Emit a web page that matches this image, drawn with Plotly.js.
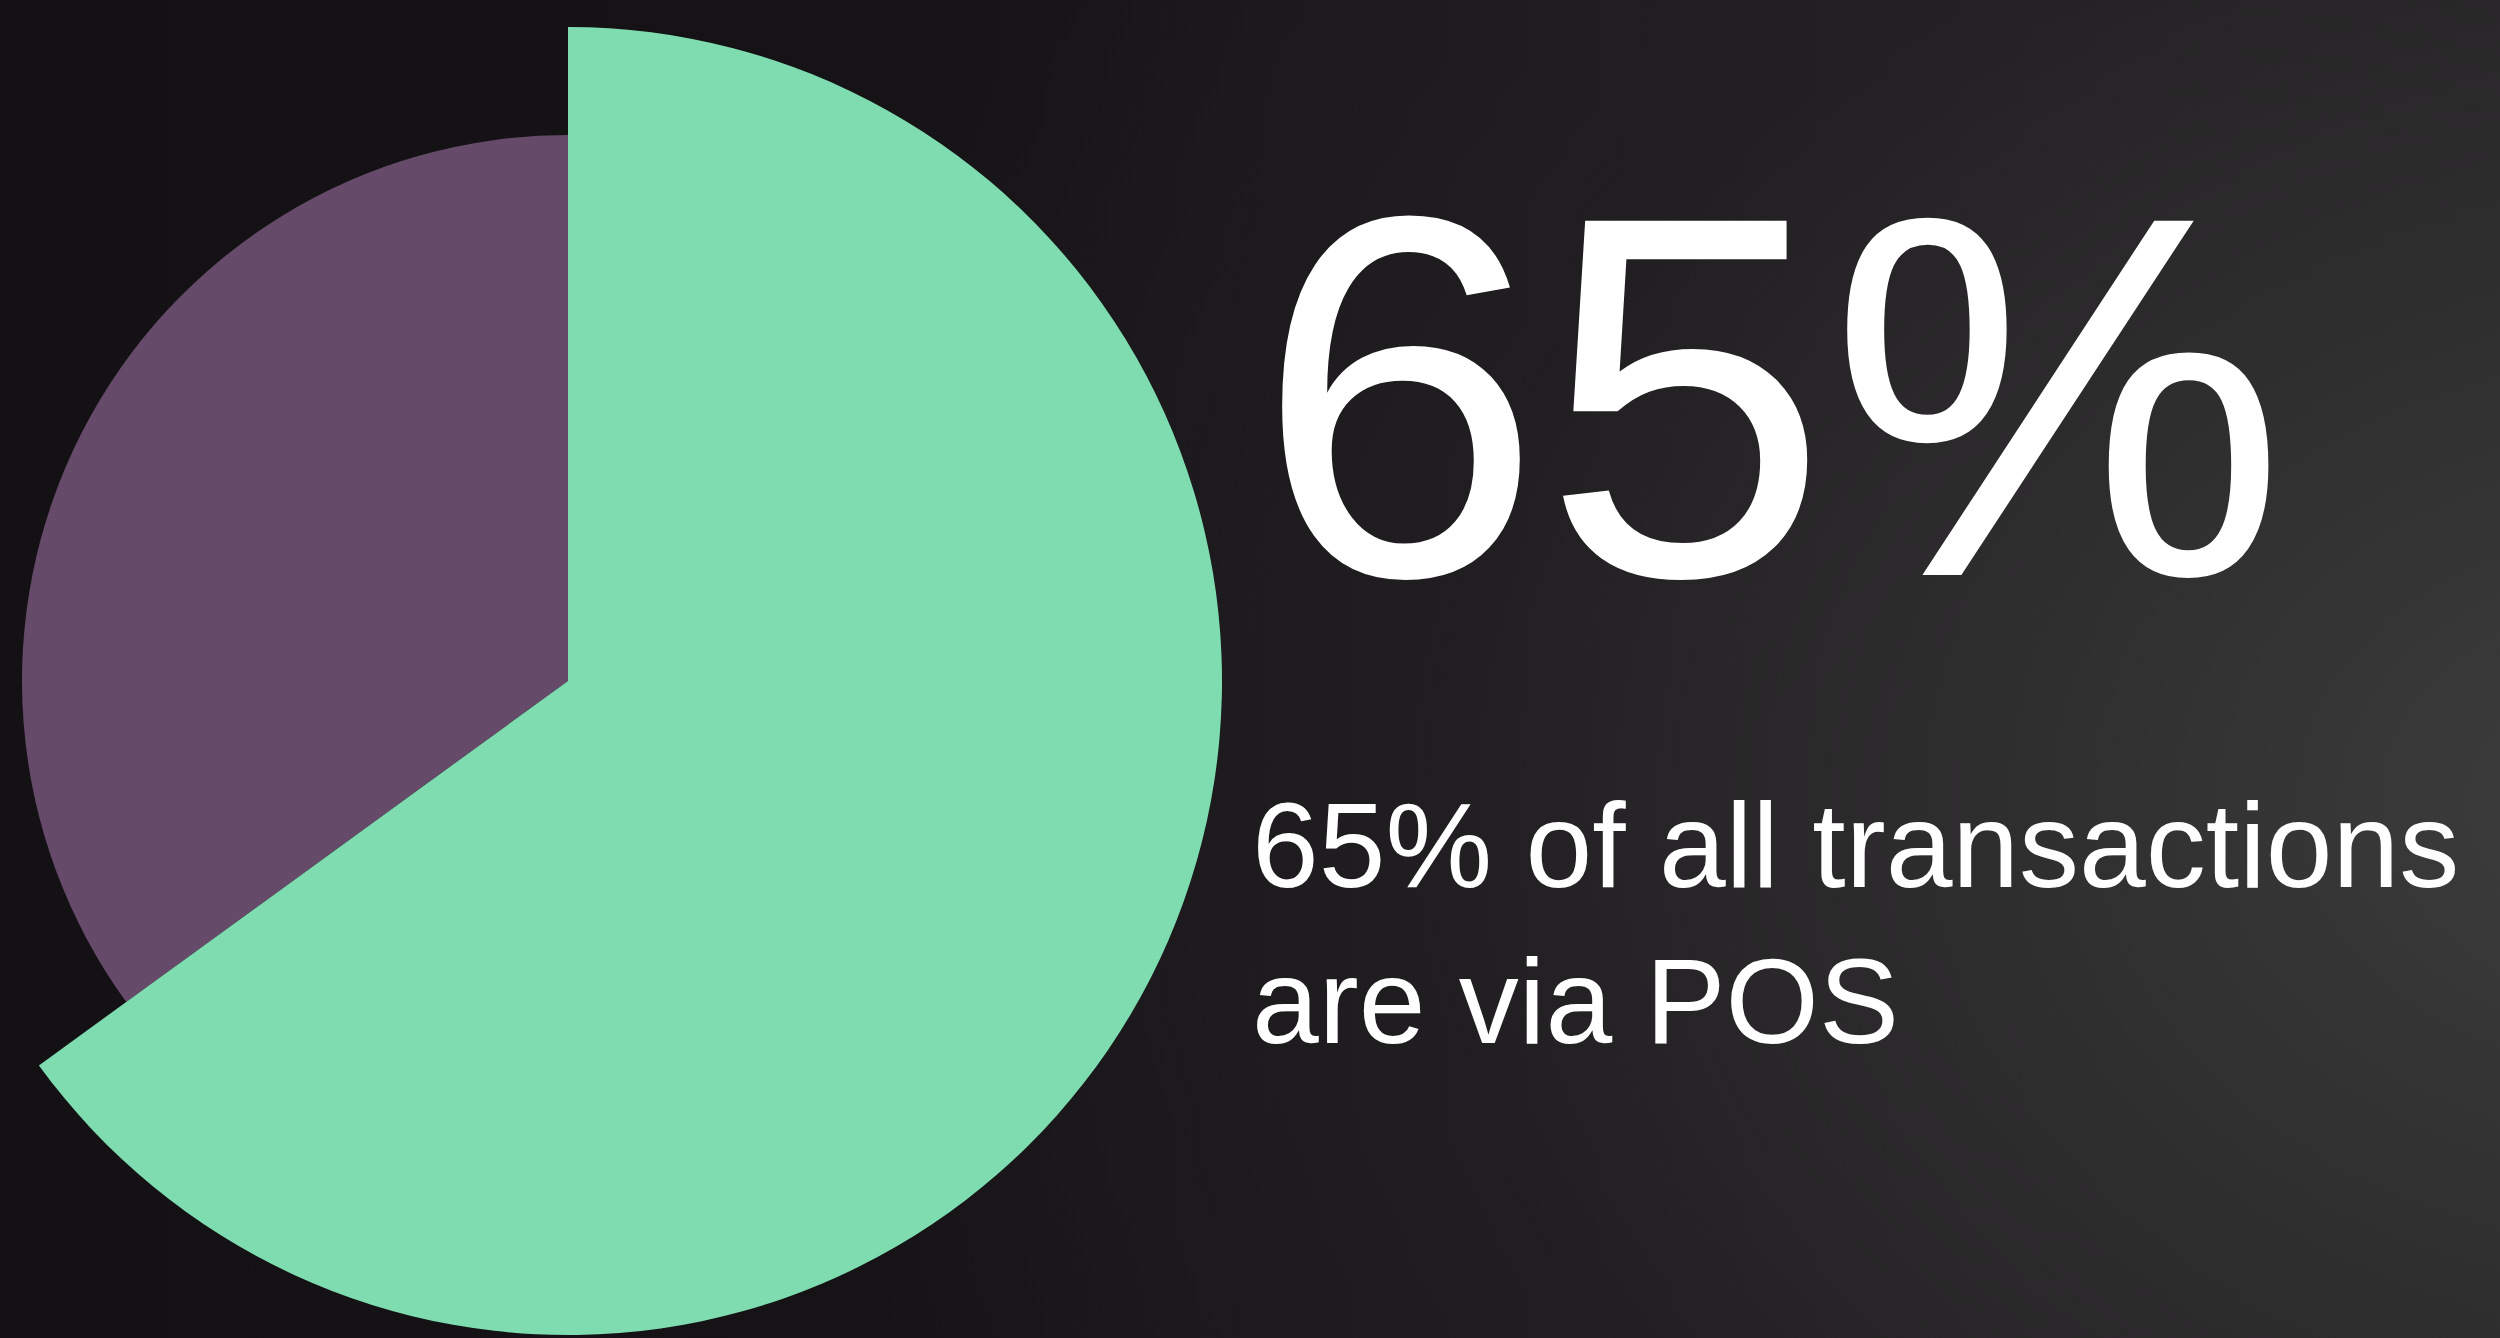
<!DOCTYPE html>
<html>
<head>
<meta charset="utf-8">
<script src="https://cdn.plot.ly/plotly-3.0.1.min.js"></script>
<style>
  html, body { margin: 0; padding: 0; width: 2500px; height: 1338px; overflow: hidden; }
  body {
    background:
      radial-gradient(ellipse 75% 110% at 105% 60%, rgba(62,61,62,1) 0%, rgba(50,49,50,0.9) 30%, rgba(34,32,34,0.6) 65%, rgba(20,18,20,0) 100%),
      linear-gradient(90deg, #131113 0%, #151315 35%, #1c1a1c 60%, #2a292a 100%);
  }
  #chart { position: absolute; left: -100px; top: 0; width: 2600px; height: 1338px; }
</style>
</head>
<body>
<div id="chart"></div>
<script>
// ---- data ----
const categories = ['POS', 'Other'];
const shares = [65, 35];
const headline = shares[0] + '%';
const subtitleLines = [shares[0] + '% of all transactions', 'are via POS'];

// ---- styling ----
const GREEN = '#7edcb0';
const PURPLE = '#664a6a';
const CLEAR = 'rgba(0,0,0,0)';

const W = 2600, H = 1338, OFFSET = 100;
// pie centre (page px) and radii
const cx = 568 + OFFSET, cyTop = 681;
const cyB = H - cyTop;
function domainFor(r) {
  return { x: [(cx - r) / W, (cx + r) / W], y: [(cyB - r) / H, (cyB + r) / H] };
}

const common = {
  type: 'pie',
  labels: categories,
  values: shares,
  sort: false,
  direction: 'clockwise',
  rotation: 0,
  textinfo: 'none',
  hoverinfo: 'skip',
  showlegend: false
};

const purpleTrace = Object.assign({}, common, {
  name: 'Other',
  domain: domainFor(546),
  marker: { colors: [CLEAR, PURPLE], line: { width: 0 } }
});
const greenTrace = Object.assign({}, common, {
  name: 'POS',
  domain: domainFor(654),
  marker: { colors: [GREEN, CLEAR], line: { width: 0 } }
});

const FONT = 'Liberation Sans, Arial, sans-serif';

const layout = {
  width: W,
  height: H,
  margin: { l: 0, r: 0, t: 0, b: 0 },
  paper_bgcolor: CLEAR,
  plot_bgcolor: CLEAR,
  showlegend: false,
  annotations: [
    {
      text: headline,
      xref: 'paper', yref: 'paper',
      x: (1256 + OFFSET - 2) / W, y: 1 - 107 / H,
      xanchor: 'left', yanchor: 'top',
      showarrow: false,
      font: { family: FONT, size: 515, color: '#ffffff' }
    },
    {
      text: subtitleLines.join('<br>'),
      xref: 'paper', yref: 'paper',
      x: (1252 + OFFSET - 2) / W, y: 1 - 776 / H,
      xanchor: 'left', yanchor: 'top', align: 'left',
      showarrow: false,
      font: { family: FONT, size: 120, color: '#ffffff' }
    }
  ]
};

Plotly.newPlot('chart', [purpleTrace, greenTrace], layout, { displayModeBar: false, staticPlot: true });
</script>
</body>
</html>
